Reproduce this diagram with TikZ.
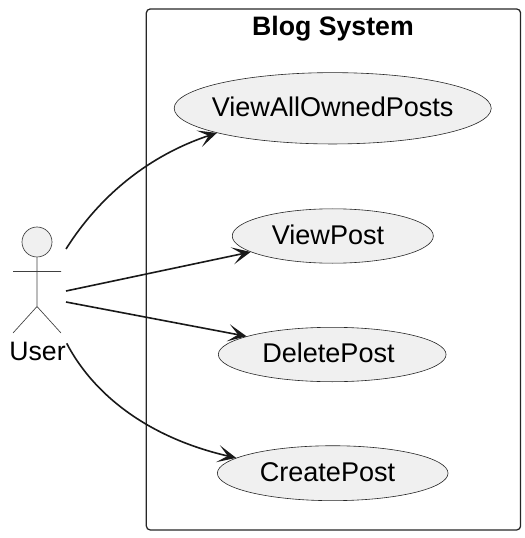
\documentclass[tikz,border=0pt]{standalone}
\usepackage{fontspec}
\setmainfont{Liberation Sans}
\usetikzlibrary{arrows.meta,shapes.geometric}
\newcommand{\uctext}[2]{\makebox[0pt]{\kern#1\smash{\raisebox{-6pt}{#2}}}}
\tikzset{
  uc/.style={draw=black!85,fill=black!6,line width=0.45pt,ellipse,inner sep=0pt,font=\fontsize{20.3}{24}\selectfont},
  conn/.style={draw=black!90,line width=1.2pt,-{Stealth[length=14pt,width=13pt,inset=7.5pt]}},
  stick/.style={draw=black!75,line width=0.5pt},
}
\begin{document}
\begin{tikzpicture}[x=0.75pt,y=-0.75pt]
\useasboundingbox (0,0) rectangle (524,538);
\node[draw=black!85,line width=0.95pt,rounded corners=3pt,minimum width=280.7pt,minimum height=390.8pt,inner sep=0pt,anchor=north west] (sys) at (145.7,8.3) {};
\node[font=\bfseries\fontsize{20}{24}\selectfont,anchor=base] (title) at (333,36) {Blog System};
\node[uc,minimum width=237.8pt,minimum height=53.5pt] (a) at (332.7,108.3) {\uctext{0pt}{ViewAllOwnedPosts}};
\node[uc,minimum width=150.8pt,minimum height=40.8pt] (b) at (332.8,236) {\uctext{-7.2pt}{ViewPost}};
\node[uc,minimum width=170.8pt,minimum height=40.8pt] (c) at (332.2,354.5) {\uctext{-5.6pt}{DeletePost}};
\node[uc,minimum width=173pt,minimum height=41.2pt] (d) at (332.7,473.2) {\uctext{-7.8pt}{CreatePost}};
\node[stick,fill=black!6,circle,minimum size=22.5pt,inner sep=0pt] (head) at (37,242) {};
\coordinate (arml) at (13,271.5);
\coordinate (armr) at (61,271.5);
\coordinate (hip) at (37,306.5);
\coordinate (legl) at (13,333);
\coordinate (legr) at (61,333);
\draw[stick] (head.south) -- (hip) (arml) -- (armr) (hip) -- (legl) (hip) -- (legr);
\node[font=\fontsize{20}{24}\selectfont,anchor=base] (user) at (37.5,360.7) {User};
\coordinate (s1) at (66,249);
\coordinate (s2) at (66,291);
\coordinate (s3) at (66,302);
\coordinate (s4) at (66.7,343.3);
\draw[conn] (s1) .. controls (100,195) and (150,155) .. (a.192.6);
\draw[conn] (s2) -- (b.191);
\draw[conn] (s3) -- (c.168.9);
\draw[conn] (s4) .. controls (92,392) and (145,437) .. (d.171);
\end{tikzpicture}
\end{document}
